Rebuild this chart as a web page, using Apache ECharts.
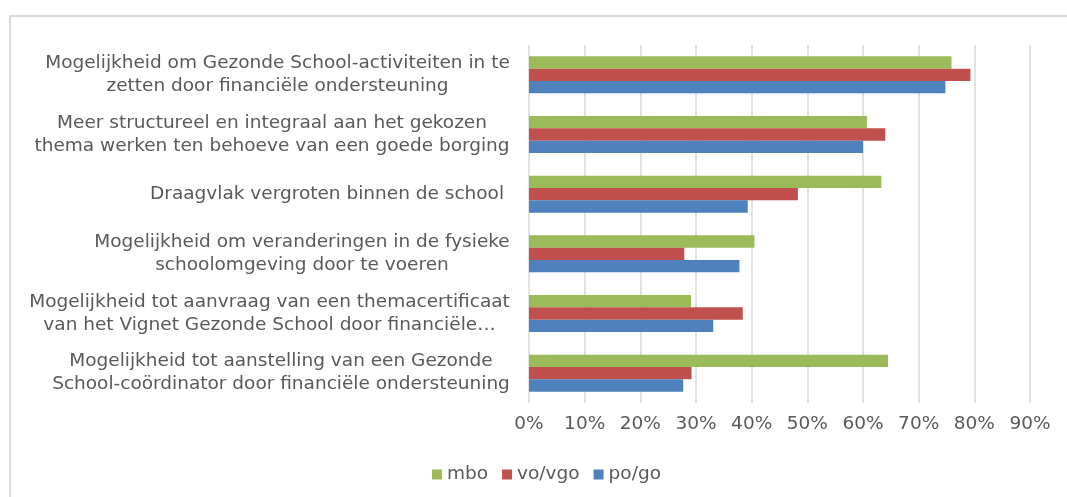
<!DOCTYPE html>
<html>
<head>
<meta charset="utf-8">
<script src="https://cdn.jsdelivr.net/npm/echarts@6/dist/echarts.min.js"></script>
<style>
  html, body { margin: 0; padding: 0; background: #fff; }
  #chart { width: 1067px; height: 497px; }
</style>
</head>
<body>
<div id="chart"></div>
<script>
// categories, top to bottom (line breaks as wrapped in the original)
const categories = [
  'Mogelijkheid om Gezonde School-activiteiten in te\nzetten door financiële ondersteuning',
  'Meer structureel en integraal aan het gekozen\nthema werken ten behoeve van een goede borging',
  'Draagvlak vergroten binnen de school ',
  'Mogelijkheid om veranderingen in de fysieke\nschoolomgeving door te voeren',
  'Mogelijkheid tot aanvraag van een themacertificaat\nvan het Vignet Gezonde School door financiële…',
  'Mogelijkheid tot aanstelling van een Gezonde\nSchool-coördinator door financiële ondersteuning'
]
const mbo = [75.9, 60.7, 63.3, 40.5, 29.1, 64.5]
const voVgo = [79.3, 64.0, 48.3, 27.9, 38.4, 29.2]
const poGo = [74.8, 60.0, 39.3, 37.8, 33.1, 27.7]
const xTicks = [0, 10, 20, 30, 40, 50, 60, 70, 80, 90]

const FONT = '"DejaVu Sans", Verdana, sans-serif'
const LABEL_SIZE = 18.5

// each label block is right aligned, its lines centred inside it (like Excel)
const ctx = document.createElement('canvas').getContext('2d')
ctx.font = LABEL_SIZE + 'px ' + FONT
const rich = {}
categories.forEach(function (c, i) {
  const w = Math.max.apply(null, c.split('\n').map(l => ctx.measureText(l).width))
  rich['c' + i] = { width: Math.ceil(w), align: 'center', fontSize: LABEL_SIZE, fontFamily: FONT, color: '#595959', lineHeight: 23 }
})

const chart = echarts.init(document.getElementById('chart'))
chart.setOption({
  animation: false,
  textStyle: { fontFamily: FONT },
  graphic: [{
    type: 'rect',
    shape: { x: 10, y: 16, width: 1100, height: 600 },
    style: { fill: 'none', stroke: '#d9d9d9', lineWidth: 2 },
    silent: true
  }],
  legend: {
    left: 427,
    top: 460,
    icon: 'rect',
    itemWidth: 10,
    itemHeight: 10,
    itemGap: 14,
    textStyle: { fontSize: 18.5, color: '#595959', fontFamily: FONT }
  },
  grid: { left: 529, right: 37, top: 45, bottom: 94 },
  xAxis: {
    type: 'value',
    min: xTicks[0],
    max: xTicks[xTicks.length - 1],
    interval: 10,
    axisLine: { show: false },
    axisTick: { show: false },
    splitLine: { lineStyle: { color: '#d9d9d9', width: 1.5 } },
    axisLabel: { formatter: '{value}%', fontSize: 18.5, color: '#595959', margin: 12, fontFamily: FONT }
  },
  yAxis: {
    type: 'category',
    inverse: true,
    data: categories,
    axisLine: { show: false },
    axisTick: { show: false },
    axisLabel: {
      margin: 19,
      interval: 0,
      formatter: function (value, index) {
        return value.split('\n').map(l => '{c' + index + '|' + l + '}').join('\n')
      },
      rich: rich
    }
  },
  series: [
    { name: 'mbo', type: 'bar', data: mbo, itemStyle: { color: '#9BBB59' }, barGap: '0%', barCategoryGap: '38%' },
    { name: 'vo/vgo', type: 'bar', data: voVgo, itemStyle: { color: '#C0504D' }, barGap: '0%', barCategoryGap: '38%' },
    { name: 'po/go', type: 'bar', data: poGo, itemStyle: { color: '#4F81BD' }, barGap: '0%', barCategoryGap: '38%' }
  ]
})
</script>
</body>
</html>
